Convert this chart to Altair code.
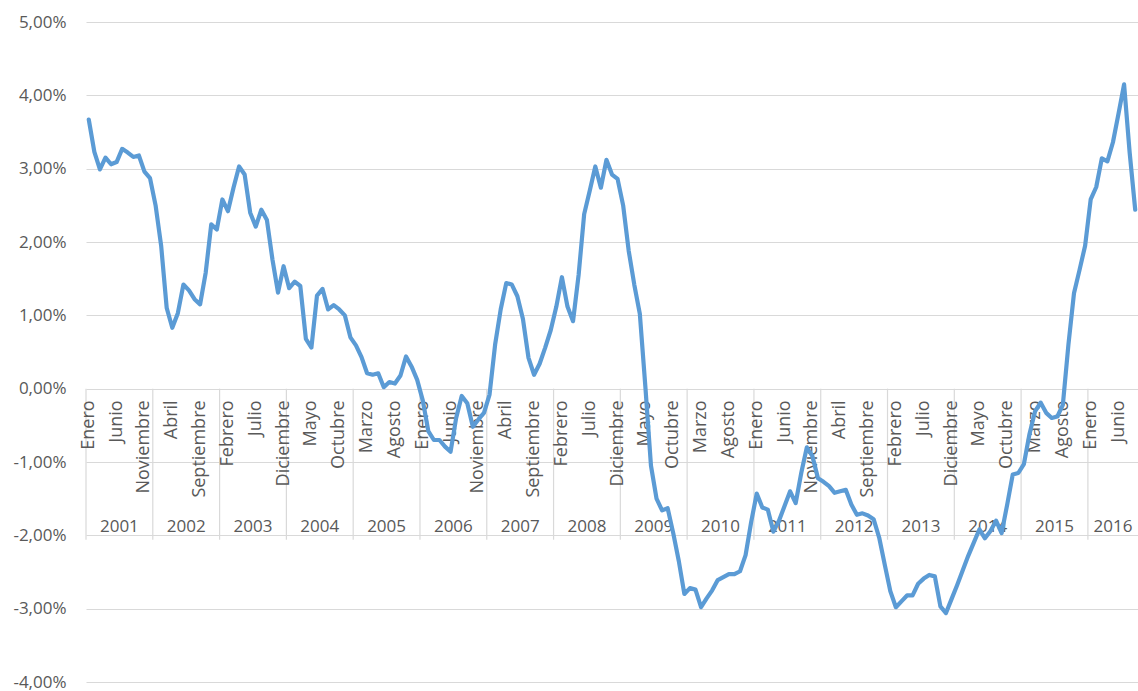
import altair as alt
import pandas as pd

# Variación mensual (%) — enero 2001 a septiembre 2016
MESES = ["Enero", "Febrero", "Marzo", "Abril", "Mayo", "Junio", "Julio",
         "Agosto", "Septiembre", "Octubre", "Noviembre", "Diciembre"]
ANIOS = list(range(2001, 2017))

v2001 = [3.67, 3.23, 2.99, 3.15, 3.06, 3.09, 3.27, 3.22, 3.16, 3.18, 2.96, 2.87]
v2002 = [2.50, 1.95, 1.10, 0.83, 1.03, 1.42, 1.34, 1.22, 1.15, 1.58, 2.24, 2.17]
v2003 = [2.58, 2.42, 2.74, 3.03, 2.92, 2.40, 2.21, 2.44, 2.30, 1.76, 1.31, 1.67]
v2004 = [1.37, 1.46, 1.40, 0.68, 0.56, 1.27, 1.36, 1.08, 1.14, 1.08, 1.00, 0.70]
v2005 = [0.59, 0.43, 0.21, 0.19, 0.21, 0.02, 0.09, 0.07, 0.18, 0.44, 0.30, 0.12]
v2006 = [-0.16, -0.58, -0.70, -0.70, -0.79, -0.86, -0.40, -0.10, -0.20, -0.52, -0.42, -0.33]
v2007 = [-0.08, 0.60, 1.08, 1.44, 1.42, 1.26, 0.95, 0.42, 0.19, 0.34, 0.56, 0.80]
v2008 = [1.12, 1.52, 1.12, 0.92, 1.55, 2.38, 2.70, 3.03, 2.74, 3.12, 2.92, 2.86]
v2009 = [2.50, 1.88, 1.42, 1.02, 0.02, -1.05, -1.50, -1.66, -1.63, -1.97, -2.35, -2.80]
v2010 = [-2.72, -2.74, -2.98, -2.86, -2.75, -2.61, -2.57, -2.53, -2.53, -2.49, -2.27, -1.82]
v2011 = [-1.43, -1.62, -1.65, -1.95, -1.80, -1.60, -1.40, -1.56, -1.15, -0.80, -0.92, -1.22]
v2012 = [-1.27, -1.33, -1.42, -1.40, -1.38, -1.58, -1.72, -1.70, -1.73, -1.78, -2.03, -2.40]
v2013 = [-2.76, -2.98, -2.90, -2.82, -2.82, -2.66, -2.59, -2.54, -2.56, -2.97, -3.06, -2.87]
v2014 = [-2.68, -2.48, -2.28, -2.10, -1.92, -2.04, -1.94, -1.80, -1.97, -1.58, -1.17, -1.15]
v2015 = [-1.03, -0.62, -0.31, -0.19, -0.33, -0.40, -0.38, -0.22, 0.60, 1.30, 1.62, 1.95]
v2016 = [2.58, 2.75, 3.14, 3.10, 3.36, 3.75, 4.15, 3.22, 2.44]

serie = (v2001 + v2002 + v2003 + v2004 + v2005 + v2006 + v2007 + v2008
         + v2009 + v2010 + v2011 + v2012 + v2013 + v2014 + v2015 + v2016)
n = len(serie)

df = pd.DataFrame({"i": list(range(n)), "valor": serie})

# Etiquetas de mes: una de cada cinco
meses_df = pd.DataFrame({
    "i": list(range(0, n, 5)),
    "mes": [MESES[k % 12] for k in range(0, n, 5)],
    "y": [-0.16] * len(range(0, n, 5)),
})

# Separadores de año y etiqueta centrada en cada tramo
anios_df = pd.DataFrame({
    "i": [(12 * k - 0.5 + min(12 * k + 11.5, n - 0.5)) / 2 for k in range(len(ANIOS))],
    "anio": [str(a) for a in ANIOS],
    "y": [-1.88] * len(ANIOS),
})
sep_df = pd.DataFrame({
    "i": [12 * k - 0.5 for k in range(len(ANIOS))],
    "y": [0.0] * len(ANIOS),
    "y2": [-2.06] * len(ANIOS),
})

GRIS = "#595959"
FUENTE = "Open Sans"

xs = alt.Scale(domain=[-0.5, n - 0.5], nice=False, zero=False)
ys = alt.Scale(domain=[-4, 5], nice=False, zero=False)

eje_y = alt.Axis(
    values=list(range(-4, 6)),
    grid=True, gridColor="#D9D9D9", gridWidth=1.2,
    domain=False, ticks=False, title=None,
    labelFont=FUENTE, labelFontSize=17, labelColor=GRIS, labelPadding=20,
    labelExpr="(datum.value < 0 ? '-' : '') + replace(format(abs(datum.value), '.2f'), '.', ',') + '%'",
)

X = alt.X("i:Q", scale=xs, axis=None)

separadores = alt.Chart(sep_df).mark_rule(color="#D9D9D9", strokeWidth=1.2).encode(
    x=X,
    y=alt.Y("y:Q", scale=ys, axis=eje_y),
    y2="y2:Q",
)

etiquetas_mes = alt.Chart(meses_df).mark_text(
    angle=270, align="right", baseline="middle",
    font=FUENTE, fontSize=18, color=GRIS,
).encode(
    x=X,
    y=alt.Y("y:Q", scale=ys, axis=eje_y),
    text="mes:N",
)

etiquetas_anio = alt.Chart(anios_df).mark_text(
    align="center", baseline="middle",
    font=FUENTE, fontSize=17, color=GRIS,
).encode(
    x=X,
    y=alt.Y("y:Q", scale=ys, axis=eje_y),
    text="anio:N",
)

linea = alt.Chart(df).mark_line(
    color="#5B9BD5", strokeWidth=4.2, strokeJoin="round", strokeCap="round",
).encode(
    x=X,
    y=alt.Y("valor:Q", scale=ys, axis=eje_y),
)

chart = alt.layer(
    separadores, etiquetas_mes, etiquetas_anio, linea
).properties(
    width=1052, height=660,
    background="white",
    autosize=alt.AutoSizeParams(type="none"),
    padding={"left": 86, "top": 22, "right": 0, "bottom": 9},
).configure_view(strokeWidth=0, stroke="transparent")

chart.save("out.html", embed_options={"renderer": "svg", "actions": False})
